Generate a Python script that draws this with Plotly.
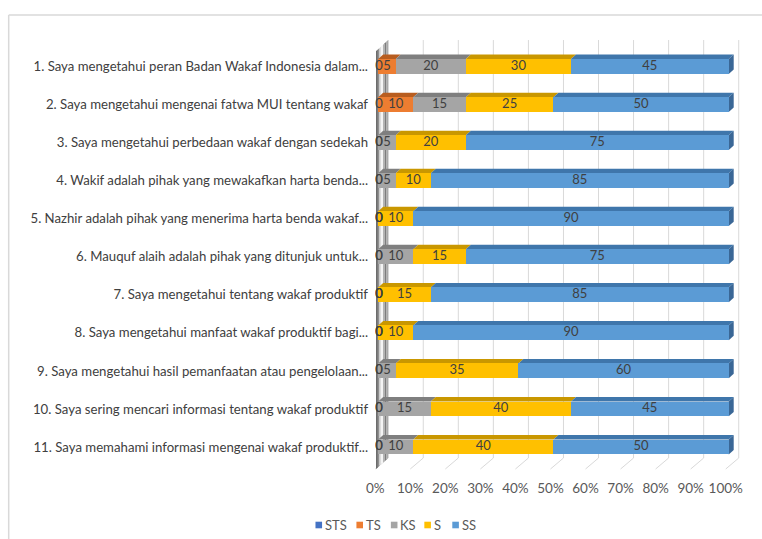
import plotly.graph_objects as go

# Survey statements (Likert scale, percentage of respondents)
questions = [
    "1. Saya mengetahui peran Badan Wakaf Indonesia dalam...",
    "2. Saya mengetahui mengenai fatwa MUI tentang wakaf",
    "3. Saya mengetahui perbedaan wakaf dengan sedekah",
    "4. Wakif adalah pihak yang mewakafkan harta benda...",
    "5. Nazhir adalah pihak yang menerima harta benda wakaf...",
    "6. Mauquf alaih adalah pihak yang ditunjuk untuk...",
    "7. Saya mengetahui tentang wakaf produktif",
    "8. Saya mengetahui manfaat wakaf produktif bagi...",
    "9. Saya mengetahui hasil pemanfaatan atau pengelolaan...",
    "10. Saya sering mencari informasi tentang wakaf produktif",
    "11. Saya memahami informasi mengenai wakaf produktif...",
]
STS = [0, 0, 0, 0, 0, 0, 0, 0, 0, 0, 0]
TS = [5, 10, 0, 0, 0, 0, 0, 0, 0, 0, 0]
KS = [20, 15, 5, 5, 0, 10, 0, 0, 5, 15, 10]
S = [30, 25, 20, 10, 10, 15, 15, 10, 35, 40, 40]
SS = [45, 50, 75, 85, 90, 75, 85, 90, 60, 45, 50]
series_names = ["STS", "TS", "KS", "S", "SS"]
x_ticks = [0, 10, 20, 30, 40, 50, 60, 70, 80, 90, 100]

series_values = [STS, TS, KS, S, SS]
front_colors = ["#4472C4", "#ED7D31", "#A5A5A5", "#FFC000", "#5B9BD5"]
top_colors = ["#30549a", "#b85d1f", "#7f7f7f", "#c99700", "#3f76ab"]
cap_color = "#3a6796"

W, H = 762, 539
# plot area in pixels
L_PX, R_PX, T_PX, B_PX = 373.8, 741.3, 35.0, 472.0
X_RANGE = [-1.2, 103.5]
Y_RANGE = [10.657, -0.828]  # reversed: first statement on top

BAR_W = 0.39
HALF = BAR_W / 2
DX, DY = 1.42, 0.118          # bar depth (x units, row units)
BACK_DX = 2.85                # back wall offset in x units
FLOOR_FRONT_DX = -0.85
Y_TOP_BACK, Y_BOT_BACK, Y_BOT_FRONT = -0.696, 10.289, 10.578

FONT = "Lato"
TXT = "#404040"

n = len(questions)
rows = list(range(n))

fig = go.Figure()
shapes = []

# back-wall gridlines with floor diagonals
for v in x_ticks:
    xb = v + BACK_DX
    shapes.append(dict(type="line", xref="x", yref="y", x0=xb, x1=xb,
                       y0=Y_TOP_BACK, y1=Y_BOT_BACK,
                       line=dict(color="#d9d9d9", width=1), layer="below"))
    shapes.append(dict(type="line", xref="x", yref="y", x0=xb, x1=v + FLOOR_FRONT_DX,
                       y0=Y_BOT_BACK, y1=Y_BOT_FRONT,
                       line=dict(color="#d9d9d9", width=1), layer="below"))

# left side wall, shaded in strips to give a metallic look
wall_cols = ["#5c5c5c", "#8f8f8f", "#dcdcdc", "#f4f4f4", "#b4b4b4", "#7d7d7d", "#a9a9a9"]
fx, bx = FLOOR_FRONT_DX + 0.25, BACK_DX
fy_bot, by_bot = Y_BOT_FRONT, Y_BOT_BACK
by_top = Y_TOP_BACK
fy_top = by_top + (fy_bot - by_bot)
ns = len(wall_cols)
for k, c in enumerate(wall_cols):
    t0, t1 = k / ns, (k + 1) / ns
    xa, xb2 = fx + (bx - fx) * t0, fx + (bx - fx) * t1
    yb0, yb1 = fy_bot + (by_bot - fy_bot) * t0, fy_bot + (by_bot - fy_bot) * t1
    yt0, yt1 = fy_top + (by_top - fy_top) * t0, fy_top + (by_top - fy_top) * t1
    shapes.append(dict(type="path", xref="x", yref="y",
                       path=f"M {xa},{yb0} L {xb2},{yb1} L {xb2},{yt1} L {xa},{yt0} Z",
                       fillcolor=c, line=dict(width=0), layer="below"))

# bars (front faces)
bases = [[0.0] * n for _ in series_values]
cum = [0.0] * n
for s, vals in enumerate(series_values):
    for i in rows:
        bases[s][i] = cum[i]
        cum[i] += vals[i]

for s, (name, vals) in enumerate(zip(series_names, series_values)):
    fig.add_trace(go.Bar(
        name=name, orientation="h", y=rows, x=vals, base=bases[s],
        width=BAR_W, marker=dict(color=front_colors[s], line=dict(width=0)),
        showlegend=False, hoverinfo="x+name",
    ))
    # top faces
    for i in rows:
        if vals[i] <= 0:
            continue
        a, b = bases[s][i], bases[s][i] + vals[i]
        y0 = i - HALF
        shapes.append(dict(type="path", xref="x", yref="y",
                           path=f"M {a},{y0} L {b},{y0} L {b + DX},{y0 - DY} L {a + DX},{y0 - DY} Z",
                           fillcolor=top_colors[s], line=dict(width=0), layer="below"))

# right end caps
for i in rows:
    e = cum[i]
    shapes.append(dict(type="path", xref="x", yref="y",
                       path=f"M {e},{i - HALF} L {e + DX},{i - HALF - DY} L {e + DX},{i + HALF - DY} L {e},{i + HALF} Z",
                       fillcolor=cap_color, line=dict(width=0), layer="below"))

# value labels
lx, ly, lt = [], [], []
for s, vals in enumerate(series_values):
    for i in rows:
        v = vals[i]
        lx.append(bases[s][i] + v / 2 if v > 0 else bases[s][i] + 0.2)
        ly.append(i)
        lt.append(str(v))
fig.add_trace(go.Scatter(x=lx, y=ly, text=lt, mode="text",
                         textfont=dict(family=FONT, size=13, color=TXT),
                         textposition="middle center", showlegend=False,
                         hoverinfo="skip", cliponaxis=False))

pw, ph = R_PX - L_PX, B_PX - T_PX


def px_x(p):
    return (p - L_PX) / pw


def px_y(p):
    return (B_PX - p) / ph


# chart frame
shapes.append(dict(type="line", xref="paper", yref="paper", x0=px_x(8), x1=px_x(8),
                   y0=px_y(15), y1=px_y(H + 5), line=dict(color="#d9d9d9", width=1.5)))
shapes.append(dict(type="line", xref="paper", yref="paper", x0=px_x(8), x1=px_x(W + 5),
                   y0=px_y(15), y1=px_y(15), line=dict(color="#d9d9d9", width=1.5)))

# legend
annotations = []
leg_sq_x = [318.5, 359.5, 394.0, 427.5, 455.5]
leg_y = 525
for name, c, xs in zip(series_names, front_colors, leg_sq_x):
    shapes.append(dict(type="rect", xref="paper", yref="paper",
                       x0=px_x(xs - 3.3), x1=px_x(xs + 3.3),
                       y0=px_y(leg_y + 3.3), y1=px_y(leg_y - 3.3),
                       fillcolor=c, line=dict(width=0)))
    annotations.append(dict(xref="paper", yref="paper", x=px_x(xs + 4.0), y=px_y(leg_y),
                            text=name, showarrow=False, xanchor="left", yanchor="middle",
                            font=dict(family=FONT, size=13, color="#595959")))

fig.update_layout(
    width=W, height=H,
    margin=dict(l=L_PX, r=W - R_PX, t=T_PX, b=H - B_PX, pad=0),
    paper_bgcolor="white", plot_bgcolor="white",
    barmode="overlay", bargap=0,
    shapes=shapes, annotations=annotations,
    showlegend=False,
    xaxis=dict(range=X_RANGE, tickvals=x_ticks, ticktext=[f"{v}%" for v in x_ticks],
               showgrid=False, zeroline=False, showline=False, ticks="",
               tickfont=dict(family=FONT, size=13.5, color="#595959"),
               ticklabelshift=-3, ticklabelstandoff=6),
    yaxis=dict(range=Y_RANGE, tickvals=rows, ticktext=questions,
               showgrid=False, zeroline=False, showline=False, ticks="",
               tickfont=dict(family=FONT, size=13.2, color=TXT),
               ticklabelstandoff=5),
)

fig.write_html("out.html")
